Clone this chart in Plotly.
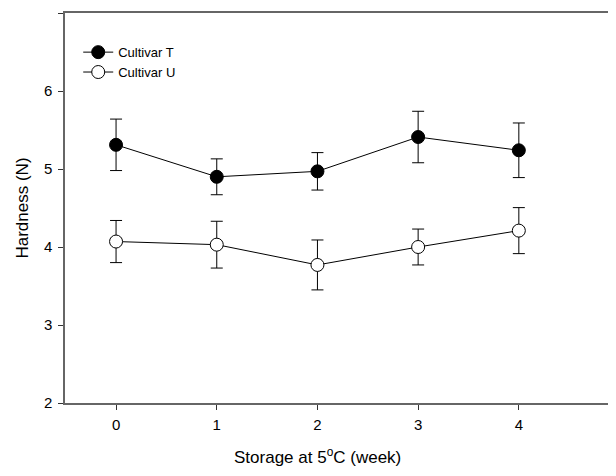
import plotly.graph_objects as go

weeks = [0, 1, 2, 3, 4]
t_mean = [5.31, 4.90, 4.97, 5.41, 5.24]
t_err = [0.33, 0.23, 0.24, 0.33, 0.35]
u_mean = [4.07, 4.03, 3.77, 4.00, 4.21]
u_err = [0.27, 0.30, 0.32, 0.23, 0.295]
x_title = "Storage at 5<sup>o</sup>C (week)"
y_title = "Hardness (N)"

fig = go.Figure()
fig.add_trace(go.Scatter(
    x=weeks, y=t_mean, name="Cultivar T", mode="lines+markers", legendgroup="t",
    line=dict(color="black", width=1),
    marker=dict(symbol="circle", size=13, color="black", line=dict(color="black", width=1)),
    error_y=dict(type="data", array=t_err, visible=True, color="black", thickness=1, width=6),
))
fig.add_trace(go.Scatter(
    x=weeks, y=u_mean, name="Cultivar U", mode="lines+markers", legendgroup="u",
    line=dict(color="black", width=1),
    marker=dict(symbol="circle", size=13, color="white", line=dict(color="black", width=1)),
    error_y=dict(type="data", array=u_err, visible=True, color="black", thickness=1, width=6),
))

# x-axis title centred under the middle tick, as in the reference
fig.add_annotation(text=x_title, x=weeks[2], xref="x", y=0, yref="paper",
                   yanchor="middle", yshift=-53, showarrow=False,
                   font=dict(size=17, color="black"))

# page body has an 8px margin, so the figure is offset by 8px
fig.update_layout(
    width=608, height=468,
    margin=dict(l=57, r=0, t=5, b=73),
    paper_bgcolor="white", plot_bgcolor="white",
    font=dict(family="Liberation Sans, Arial", size=15, color="black"),
    showlegend=True,
    legend=dict(x=0.024, y=0.938, xanchor="left", yanchor="top",
                bgcolor="rgba(0,0,0,0)", font=dict(size=13),
                traceorder="grouped", tracegroupgap=0, itemwidth=30),
    xaxis=dict(range=[-0.507, 4.965], tickvals=weeks, ticks="outside", ticklen=5,
               tickcolor="#333", showline=True, linecolor="#666", linewidth=1.5,
               mirror=True, showgrid=False, zeroline=False, ticklabelstandoff=2),
    yaxis=dict(range=[2, 7], tickvals=[2, 3, 4, 5, 6, 7], ticks="outside", ticklen=5,
               tickcolor="#333", showline=True, linecolor="#666", linewidth=1.5,
               showgrid=False, zeroline=False, ticklabelstandoff=3,
               title=dict(text=y_title, font=dict(size=17), standoff=11)),
)

fig.write_html("out.html")
